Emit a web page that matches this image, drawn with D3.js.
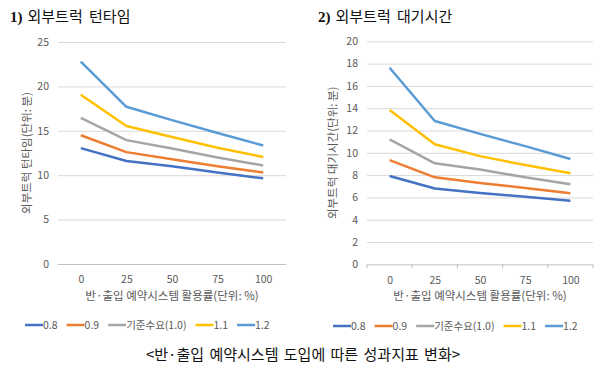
<!DOCTYPE html>
<html><head><meta charset="utf-8">
<script src="https://cdn.jsdelivr.net/npm/d3@7"></script>
<style>
body{margin:0;background:#fff;}
svg{display:block;}
text{font-family:"Noto Sans CJK KR","Noto Sans",sans-serif;}
</style></head>
<body>
<svg id="c" width="600" height="370"></svg>
<script>
const categories = [0, 25, 50, 75, 100];
const seriesNames = ["0.8", "0.9", "기준수요(1.0)", "1.1", "1.2"];
const seriesColors = ["#4472C4", "#ED7D31", "#A5A5A5", "#FFC000", "#5B9BD5"];

const turn08 = [13.05, 11.6, 11.0, 10.3, 9.65];
const turn09 = [14.5, 12.6, 11.8, 11.0, 10.3];
const turn10 = [16.45, 13.95, 13.0, 12.0, 11.1];
const turn11 = [19.05, 15.55, 14.3, 13.1, 12.05];
const turn12 = [22.8, 17.7, 16.2, 14.75, 13.35];
const turnTicks = [0, 5, 10, 15, 20, 25];

const wait08 = [7.92, 6.8, 6.4, 6.05, 5.7];
const wait09 = [9.35, 7.8, 7.3, 6.85, 6.37];
const wait10 = [11.2, 9.06, 8.5, 7.8, 7.17];
const wait11 = [13.84, 10.76, 9.7, 8.9, 8.16];
const wait12 = [17.63, 12.85, 11.7, 10.6, 9.44];
const waitTicks = [0, 2, 4, 6, 8, 10, 12, 14, 16, 18, 20];

const xTitle = "반·출입 예약시스템 활용률(단위: %)";
const caption = "<반·출입 예약시스템 도입에 따른 성과지표 변화>";

const svg = d3.select("#c");

function drawChart(cfg) {
  const g = svg.append("g");
  const x = d3.scalePoint().domain(categories).range([cfg.x0, cfg.x1]).padding(0.5);
  const band = d3.scaleBand().domain(categories).range([cfg.x0, cfg.x1]);
  const y = d3.scaleLinear().domain([0, cfg.ticks[cfg.ticks.length - 1]]).range([cfg.yb, cfg.yt]);

  // title
  const t = g.append("text").attr("x", cfg.tx).attr("y", 22)
    .attr("font-size", 15).attr("fill", "#111");
  t.append("tspan").attr("font-family", "Liberation Serif, serif").attr("font-weight", "bold").text(cfg.num);
  t.append("tspan").attr("dx", 5).attr("word-spacing", 3).text(cfg.title);

  // gridlines
  const ya = d3.axisLeft(y).tickValues(cfg.ticks).tickSize(-(cfg.x1 - cfg.x0)).tickPadding(9);
  const yg = g.append("g").attr("transform", `translate(${cfg.x0},0)`).call(ya);
  yg.select(".domain").remove();
  yg.selectAll(".tick line").attr("stroke", "#D9D9D9").attr("stroke-width", 1);
  yg.selectAll(".tick text").attr("fill", "#595959").attr("font-size", 10.5)
    .attr("font-family", "Calibri, Carlito, 'Liberation Sans', sans-serif");
  yg.selectAll(".tick").filter(d => d === 0).select("line").attr("stroke", "#BFBFBF");

  // x axis
  const xa = d3.axisBottom(x).tickSize(0).tickPadding(12);
  const xg = g.append("g").attr("transform", `translate(0,${cfg.yb})`).call(xa);
  xg.select(".domain").remove();
  xg.selectAll(".tick text").attr("fill", "#595959").attr("font-size", 10.5)
    .attr("font-family", "Calibri, Carlito, 'Liberation Sans', sans-serif");
  if (cfg.xticks) {
    const edges = categories.map(c => band(c)).concat([cfg.x1]);
    g.selectAll(null).data(edges).enter().append("line")
      .attr("x1", d => d).attr("x2", d => d)
      .attr("y1", cfg.yb).attr("y2", cfg.yb + 4)
      .attr("stroke", "#BFBFBF");
  }

  // axis titles
  g.append("text").attr("x", (cfg.x0 + cfg.x1) / 2).attr("y", cfg.yb + 36)
    .attr("text-anchor", "middle").attr("font-size", 11.5).attr("fill", "#595959").text(xTitle);
  g.append("text").attr("transform", `translate(${cfg.ytx},${(cfg.yt + cfg.yb) / 2}) rotate(-90)`)
    .attr("text-anchor", "middle").attr("font-size", 11.5).attr("fill", "#595959").text(cfg.ytitle);

  // lines
  const line = d3.line().x((d, i) => x(categories[i])).y(d => y(d));
  cfg.series.forEach((s, i) => {
    g.append("path").datum(s).attr("d", line).attr("fill", "none")
      .attr("stroke", seriesColors[i]).attr("stroke-width", 2.5).attr("stroke-linejoin", "round");
  });

  // legend
  const lg = g.append("g").attr("transform", `translate(${cfg.lx},${cfg.ly})`);
  let cx = 0;
  seriesNames.forEach((n, i) => {
    lg.append("line").attr("x1", cx).attr("x2", cx + 18).attr("y1", 0).attr("y2", 0)
      .attr("stroke", seriesColors[i]).attr("stroke-width", 2.5);
    const tx = lg.append("text").attr("x", cx + 18).attr("y", 3.5).attr("font-size", 10.5)
      .attr("fill", "#595959").text(n);
    const w = tx.node().getComputedTextLength();
    cx += 18 + w + 9;
  });
}

drawChart({
  x0: 58, x1: 286, yt: 42, yb: 264, tx: 10, num: "1)", title: "외부트럭 턴타임",
  ticks: turnTicks, series: [turn08, turn09, turn10, turn11, turn12],
  ytitle: "외부트럭 턴타임(단위: 분)", ytx: 31, xticks: false, lx: 25, ly: 325
});
drawChart({
  x0: 367, x1: 593, yt: 41.3, yb: 264.3, tx: 318, num: "2)", title: "외부트럭 대기시간",
  ticks: waitTicks, series: [wait08, wait09, wait10, wait11, wait12],
  ytitle: "외부트럭 대기시간(단위: 분)", ytx: 337, xticks: true, lx: 333, ly: 326
});

svg.append("text").attr("x", 303).attr("y", 360).attr("text-anchor", "middle")
  .attr("font-size", 15).attr("word-spacing", 2).attr("fill", "#111").text(caption);
</script>
</body></html>
